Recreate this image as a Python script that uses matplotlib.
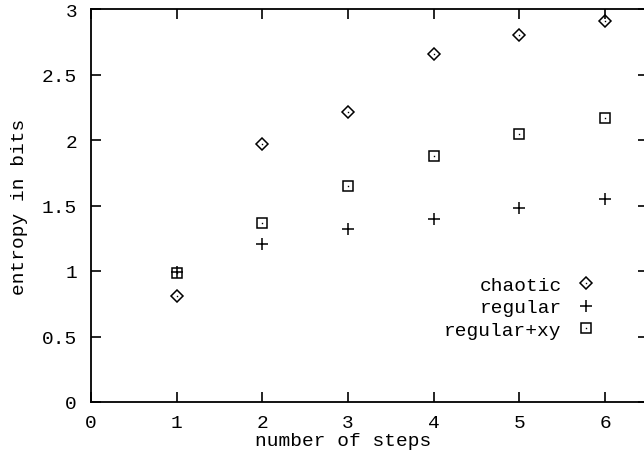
import matplotlib
matplotlib.use("Agg")
import matplotlib.pyplot as plt

steps = [1, 2, 3, 4, 5, 6]
chaotic = [0.81, 1.97, 2.21, 2.656, 2.80, 2.91]
regular = [0.99, 1.206, 1.32, 1.40, 1.481, 1.547]
regular_xy = [0.985, 1.366, 1.651, 1.875, 2.043, 2.17]
xticks = [0, 1, 2, 3, 4, 5, 6]
yticks = [0, 0.5, 1, 1.5, 2, 2.5, 3]
ytick_labels = ["0", "0.5", "1", "1.5", "2", "2.5", "3"]

plt.rcParams['font.family'] = ['Liberation Mono', 'DejaVu Sans Mono']
FS = 14

fig = plt.figure(figsize=(6.44, 4.60), dpi=100)
ax = fig.add_axes([91/644, 57/460, 557/644, 393/460])

dot_kw = dict(linestyle='none', marker='s', markersize=1.0, markeredgewidth=0,
              color='black')
h1 = ax.plot(steps, chaotic, linestyle='none', marker='D', markersize=6.2,
             markerfacecolor='none', markeredgecolor='black', markeredgewidth=1.1)[0]
d1 = ax.plot(steps, chaotic, **dot_kw)[0]
h2 = ax.plot(steps, regular, linestyle='none', marker='+', markersize=9,
             markeredgecolor='black', markeredgewidth=1.1)[0]
h3 = ax.plot(steps, regular_xy, linestyle='none', marker='s', markersize=7,
             markerfacecolor='none', markeredgecolor='black', markeredgewidth=1.1)[0]
d3 = ax.plot(steps, regular_xy, **dot_kw)[0]

ax.set_xlim(0, 6.5)
ax.set_ylim(0, 3)
ax.set_xticks(xticks)
ax.set_yticks(yticks)
ax.set_yticklabels(ytick_labels)
ax.tick_params(direction='in', length=7, width=1.2, top=True, right=True,
               labelsize=FS, colors='black')
ax.tick_params(axis='x', pad=9)
ax.tick_params(axis='y', pad=10)
for s in ax.spines.values():
    s.set_linewidth(1.3)

ax.set_xlabel("number of steps", fontsize=FS)
ax.xaxis.set_label_coords((343-91)/557, -0.076)
ax.set_ylabel("entropy in bits", fontsize=FS)
ax.yaxis.set_label_coords(-0.113, 0.5)

leg = ax.legend([(h1, d1), h2, (h3, d3)], ["chaotic", "regular", "regular+xy"],
                frameon=False, markerfirst=False, loc='upper right',
                bbox_to_anchor=(0.906, 0.32), borderpad=0, borderaxespad=0,
                handlelength=1.0, handletextpad=0.75, labelspacing=0.25,
                fontsize=FS, numpoints=1)

fig.savefig("out.png", dpi=100)
